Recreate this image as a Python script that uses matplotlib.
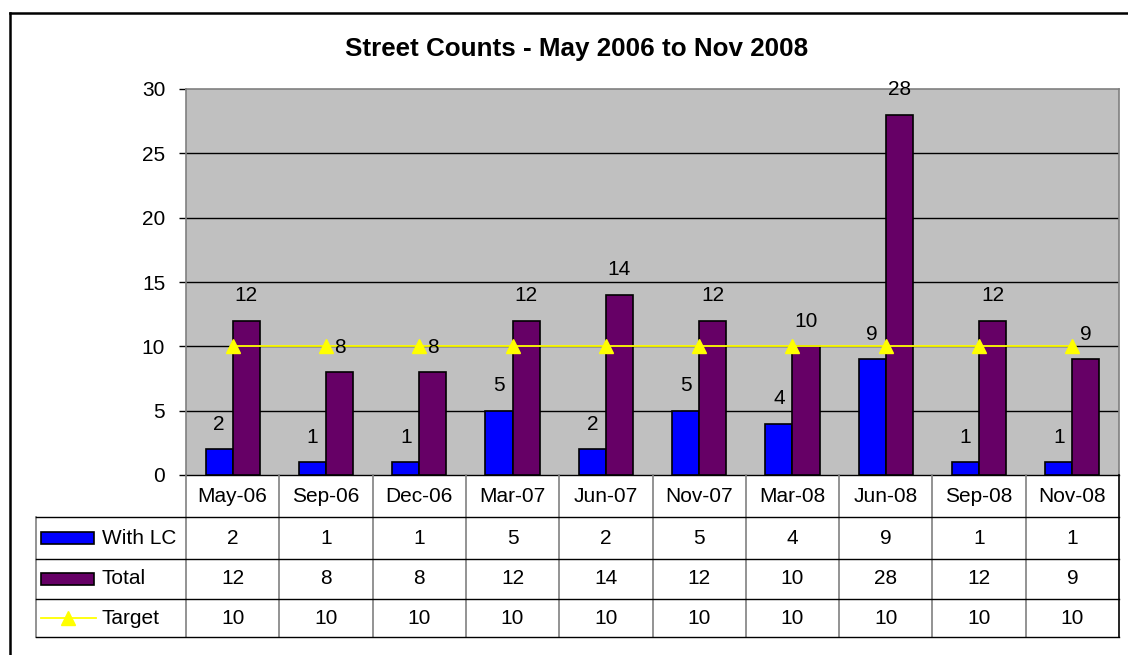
import matplotlib
matplotlib.use("Agg")
import matplotlib.pyplot as plt
from matplotlib.lines import Line2D
from matplotlib.patches import Rectangle
from matplotlib.transforms import blended_transform_factory

plt.rcParams['font.family'] = ['Liberation Sans', 'DejaVu Sans']

# Data
months = ["May-06", "Sep-06", "Dec-06", "Mar-07", "Jun-07",
          "Nov-07", "Mar-08", "Jun-08", "Sep-08", "Nov-08"]
with_lc = [2, 1, 1, 5, 2, 5, 4, 9, 1, 1]
total = [12, 8, 8, 12, 14, 12, 10, 28, 12, 9]
target = [10, 10, 10, 10, 10, 10, 10, 10, 10, 10]

blue = "#0000FF"
purple = "#660066"
yellow = "#FFFF00"
grey = "#808080"

W, H = 1128, 655
fig = plt.figure(figsize=(W / 100, H / 100), dpi=100)

def fx(px):
    return px / W

def fy(py):
    return 1 - py / H

# plot area in pixel terms
left, right, top, bottom = 186, 1119, 89, 475
ax = fig.add_axes([fx(left), fy(bottom), fx(right) - fx(left), fy(top) - fy(bottom)])
ax.set_facecolor("#C0C0C0")

x = list(range(len(months)))
bw = 0.29
ax.bar([i - bw / 2 for i in x], with_lc, width=bw, color=blue, edgecolor="black", linewidth=1.2, zorder=3)
ax.bar([i + bw / 2 for i in x], total, width=bw, color=purple, edgecolor="black", linewidth=1.2, zorder=3)
ax.plot(x, target, color=yellow, linewidth=1.3, marker="^", markersize=10, zorder=4)

# value labels above each bar
for i in x:
    ax.annotate(str(with_lc[i]), (i - bw / 2, with_lc[i]), xytext=(0, 18), textcoords="offset points",
                ha="center", va="center", fontsize=15, zorder=5)
    ax.annotate(str(total[i]), (i + bw / 2, total[i]), xytext=(0, 18), textcoords="offset points",
                ha="center", va="center", fontsize=15, zorder=5)

ax.set_xlim(-0.5, len(months) - 0.5)
ax.set_ylim(0, 30)
ax.set_yticks(range(0, 31, 5))
ax.set_xticks([])
ax.tick_params(axis="y", direction="out", length=5, width=1, labelsize=15, pad=10)
for y in range(5, 30, 5):
    ax.axhline(y, color="black", linewidth=1, zorder=1)
for side in ["top", "right", "left"]:
    ax.spines[side].set_color(grey)
    ax.spines[side].set_linewidth(1.2)
ax.spines["bottom"].set_color("black")
ax.spines["bottom"].set_linewidth(1)

fig.text(fx(577), fy(49), "Street Counts - May 2006 to Nov 2008", ha="center", va="center",
         fontsize=18.7, fontweight="bold")

# data table under the plot
tr = blended_transform_factory(ax.transData, fig.transFigure)
row_edges = [475, 517, 559, 599, 637]
tab_left = 36

for i, m in enumerate(months):
    fig.text(i, fy((row_edges[0] + row_edges[1]) / 2), m, transform=tr,
             ha="center", va="center", fontsize=15)
    for r, vals in enumerate([with_lc, total, target]):
        yc = fy((row_edges[r + 1] + row_edges[r + 2]) / 2)
        fig.text(i, yc, str(vals[i]), transform=tr, ha="center", va="center", fontsize=15)

# column separators
for i in range(len(months) + 1):
    col = "black" if i == len(months) else grey
    fig.add_artist(Line2D([i - 0.5, i - 0.5], [fy(475), fy(637)], transform=tr, color=col, linewidth=1.2))
fig.add_artist(Line2D([fx(tab_left), fx(tab_left)], [fy(517), fy(637)], color=grey, linewidth=1.2))
for py in row_edges[1:]:
    fig.add_artist(Line2D([fx(tab_left), fx(right)], [fy(py), fy(py)], color="black", linewidth=1))

# legend keys inside the table
names = ["With LC", "Total", "Target"]
for r, name in enumerate(names):
    yc = (row_edges[r + 1] + row_edges[r + 2]) / 2
    if r < 2:
        fig.add_artist(Rectangle((fx(41), fy(yc + 6)), fx(94) - fx(41), fy(yc - 6) - fy(yc + 6),
                                 facecolor=[blue, purple][r], edgecolor="black", linewidth=1.2,
                                 transform=fig.transFigure))
    else:
        fig.add_artist(Line2D([fx(41), fx(96)], [fy(yc), fy(yc)], color=yellow, linewidth=1.3))
        fig.add_artist(Line2D([fx(68)], [fy(yc)], color=yellow, marker="^", markersize=10))
    fig.text(fx(102), fy(yc), name, ha="left", va="center", fontsize=15)

# outer chart frame (top and left edges)
fig.add_artist(Line2D([fx(10), 1], [fy(13), fy(13)], color="black", linewidth=1.8))
fig.add_artist(Line2D([fx(10), fx(10)], [fy(13), 0], color="black", linewidth=1.8))

fig.savefig("out.png", dpi=100)
